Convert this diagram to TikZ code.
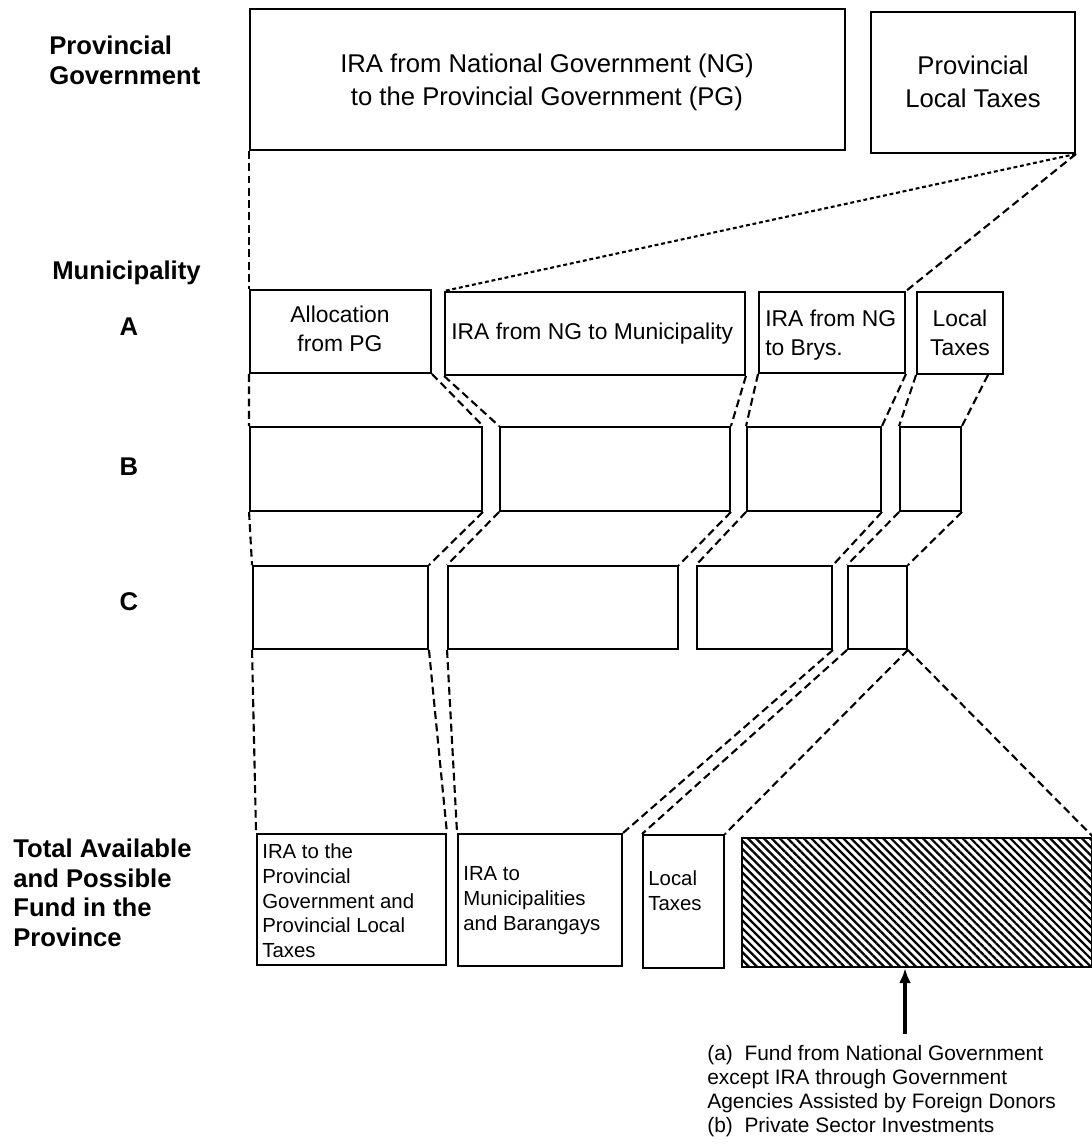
\documentclass[tikz,border=0pt]{standalone}
\usepackage{fontspec}
\setmainfont{Liberation Sans}
\usetikzlibrary{fit,patterns.meta,arrows.meta}

\begin{document}
\begin{tikzpicture}[x=0.02cm, y=-0.02cm,
  fund box/.style={draw, line width=1.1pt, inner sep=0pt},
  box text/.style={inner sep=0pt, align=left, anchor=north west},
  mid text/.style={inner sep=0pt, align=center},
  level label/.style={font=\bfseries\fontsize{14.6}{16.8}\selectfont, inner sep=0pt, align=left},
  top font/.style={font=\fontsize{14.6}{18.7}\selectfont},
  row font/.style={font=\fontsize{13}{16.2}\selectfont},
  total font/.style={font=\fontsize{11.6}{14.2}\selectfont},
  link/.style={line width=1.2pt, dash pattern=on 4.5pt off 2.5pt},
  fine link/.style={line width=1.2pt, dash pattern=on 2.2pt off 1.6pt}]
  \useasboundingbox (0,0) rectangle (1091,1148);
  % level labels
  \node [level label, anchor=north west] (lbl pg) at (49,36) {Provincial\\Government};
  \node [level label, anchor=west] (lbl mun) at (52,273) {Municipality};
  \node [level label] (lbl a) at (129,327) {A};
  \node [level label] (lbl b) at (129,467) {B};
  \node [level label] (lbl c) at (129,602) {C};
  \node [level label, anchor=north west] (lbl total) at (13,839) {Total Available\\and Possible\\Fund in the\\Province};
  % provincial government
  \node [fund box, fit={(250,9) (845,150)}] (pg ira) {};
  \node [mid text, top font] (pg ira text) at (547,82) {IRA from National Government (NG)\\to the Provincial Government (PG)};
  \node [fund box, fit={(871,12) (1075,153)}] (pg tax) {};
  \node [mid text, top font] (pg tax text) at (973,82) {Provincial\\Local Taxes};
  % municipality A
  \node [fund box, fit={(250,290) (431,373)}] (a alloc) {};
  \node [mid text, row font] (a alloc text) at (340,329) {Allocation\\from PG};
  \node [fund box, fit={(445,292) (745,375)}] (a muni) {};
  \node [box text, row font, anchor=west] (a muni text) at ([xshift=0.14cm]a muni.west) {IRA from NG to Municipality};
  \node [fund box, fit={(759,292) (905,373)}] (a brgy) {};
  \node [box text, row font] (a brgy text) at (765,310) {IRA from NG\\to Brys.};
  \node [fund box, fit={(917,292) (1003,374)}] (a tax) {};
  \node [mid text, row font] (a tax text) at (960,333) {Local\\Taxes};
  % municipalities B and C
  \foreach \n/\xl/\xr in {alloc/250/482, muni/500/730, brgy/747/881, tax/900/961}
    \node [fund box, fit={(\xl,427) (\xr,511)}] (b \n) {};
  \foreach \n/\xl/\xr in {alloc/253/428, muni/448/678, brgy/697/832, tax/848/907}
    \node [fund box, fit={(\xl,566) (\xr,649)}] (c \n) {};
  % total fund
  \node [fund box, fit={(257,834) (446,965)}] (t pg) {};
  \node [box text, total font] (t pg text) at (262,843) {IRA to the\\Provincial\\Government and\\Provincial Local\\Taxes};
  \node [fund box, fit={(458,834) (622,966)}] (t mb) {};
  \node [box text, total font] (t mb text) at (463,866) {IRA to\\Municipalities\\and Barangays};
  \node [fund box, fit={(643,835) (724,968)}] (t tax) {};
  \node [box text, total font] (t tax text) at (648,870) {Local\\Taxes};
  \node [fund box, fit={(742,838) (1092,967)}, pattern={Lines[angle=-45, distance=3.2pt, line width=1.3pt]}] (t other) {};
  % dashed links
  \draw [link] (pg ira.south west) -- (a alloc.north west);
  \draw [fine link] (pg tax.south east) -- (a muni.north west);
  \draw [link] (pg tax.south east) -- (a brgy.north east);
  \foreach \n in {alloc,muni,brgy}
    \draw [link] (a \n.south west) -- (b \n.north west) (a \n.south east) -- (b \n.north east);
  \draw [link] (a tax.south west) -- (b tax.north west) ([xshift=-0.32cm]a tax.south east) -- (b tax.north east);
  \foreach \n in {alloc,muni,brgy,tax}
    \draw [link] (b \n.south west) -- (c \n.north west) (b \n.south east) -- (c \n.north east);
  \draw [link] (c alloc.south west) -- (t pg.north west) (c alloc.south east) -- (t pg.north east);
  \draw [link] (c muni.south west) -- (t mb.north west) (c brgy.south east) -- (t mb.north east);
  \draw [link] (c tax.south west) -- (t tax.north west) (c tax.south east) -- (t tax.north east);
  \draw [link] (c tax.south east) -- (t other.north east);
  % other sources
  \node [box text, font=\fontsize{11.9}{13.6}\selectfont] (note) at (707,1045) {(a)~~Fund from National Government\\except IRA through Government\\Agencies Assisted by Foreign Donors\\(b)~~Private Sector Investments};
  \coordinate (arrow foot) at (905,1034);
  \draw [-{Latex[length=3mm,width=2.4mm]}, line width=2pt] (arrow foot) -- (arrow foot |- t other.south);
\end{tikzpicture}
\end{document}
